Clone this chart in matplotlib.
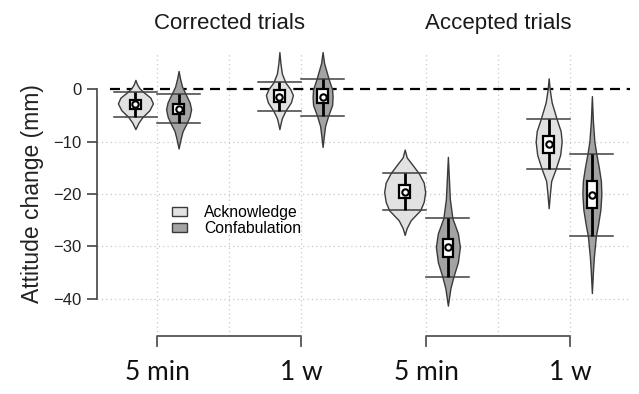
import numpy as np
import matplotlib
matplotlib.use("Agg")
import matplotlib.pyplot as plt
from matplotlib.patches import Patch, Rectangle

plt.rcParams['font.family'] = ['Liberation Sans', 'DejaVu Sans']

# ---- data ----
panel_titles = ['Corrected trials', 'Accepted trials']
time_labels = ['5 min', '1 w', '5 min', '1 w']
group_pos = [1.0, 3.0, 4.74, 6.74]
conditions = ['Acknowledge', 'Confabulation']

# order: (5 min, 1 w) corrected, then (5 min, 1 w) accepted; Ack / Confab within each
medians = [-2.9, -3.8, -1.4, -1.5, -19.6, -30.2, -10.4, -20.2]
box_hi = [-2.0, -2.9, -0.1, 0.0, -18.3, -28.5, -8.9, -17.6]
box_lo = [-3.8, -4.8, -2.4, -2.7, -20.8, -32.1, -12.1, -22.7]
bar_hi = [-0.6, -0.9, 1.3, 2.0, -16.0, -24.6, -5.7, -12.4]
bar_lo = [-5.3, -6.5, -4.1, -5.1, -23.1, -35.8, -15.2, -28.0]

# violin outlines: y values and density (half width)
prof_y = [
    [1.8, 1.0, 0.2, -0.6, -1.6, -2.7, -4.0, -5.3, -6.4, -7.6],
    [3.5, 2.0, 0.5, -0.9, -2.5, -3.8, -5.2, -6.5, -8.0, -9.5, -11.3],
    [7.1, 5.0, 3.0, 1.3, 0.0, -1.1, -2.5, -4.1, -5.5, -6.5, -7.6],
    [7.1, 5.0, 2.0, 0.0, -1.5, -3.0, -5.1, -7.0, -9.0, -11.0],
    [-11.5, -13.0, -14.1, -16.0, -17.8, -19.6, -21.5, -23.1, -25.0, -26.5, -27.8],
    [-12.9, -17.0, -21.0, -24.6, -27.5, -30.1, -33.0, -35.8, -38.0, -41.3],
    [2.1, 0.0, -2.5, -5.7, -8.0, -10.0, -12.5, -15.2, -17.5, -20.0, -22.7],
    [-1.3, -6.0, -10.0, -12.4, -15.0, -17.5, -20.0, -23.0, -26.0, -28.0, -32.0, -35.0, -38.9],
]
prof_d = [
    [0, 1.5, 4, 8.5, 15, 17.5, 14, 7, 3, 0],
    [0, 1.5, 3.5, 7, 11, 12.5, 11, 8, 4, 2, 0],
    [0, 1, 2.5, 6, 11, 13.5, 11.5, 6, 2.5, 1.2, 0],
    [0, 1.5, 6, 9.5, 10, 9.5, 5.5, 2.5, 1.2, 0],
    [0, 2, 6.5, 14, 19, 20.5, 19, 15.5, 6, 2, 0],
    [0, 1, 2, 4.5, 10, 12, 10, 5.5, 2.5, 0],
    [0, 1, 3, 8, 12, 13, 11.5, 7, 2.5, 1.2, 0],
    [0, 1, 2.5, 4.5, 7, 9, 9.5, 8.5, 6, 4, 2, 1, 0],
]

fills = ['#e2e2e2', '#a3a3a3']
edge = '#3a3a3a'
offset = 0.3
dscale = 1 / 72.0

fig = plt.figure(figsize=(6.39, 3.94), dpi=100)
ax = fig.add_axes([97 / 639, 1 - 336 / 394, 535 / 639, 284 / 394])
ax.set_xlim(1 + (97 - 157) / 72, 1 + (632 - 157) / 72)
ax.set_ylim(-47.1, 7.12)

# grid
vgrid = []
for g in group_pos:
    vgrid += [g, g + 1] if g in (1.0, 4.74) else [g]
for x in vgrid:
    ax.axvline(x, color='#c8c8c8', ls=(0, (1, 2.5)), lw=0.9, zorder=0)
for y in [-10, -20, -30, -40]:
    ax.axhline(y, xmax=0.996, color='#c8c8c8', ls=(0, (1, 2.5)), lw=0.9, zorder=0)
ax.axhline(0, xmin=0.024, xmax=0.996, color='black', ls=(0, (4.5, 3)), lw=1.6, zorder=1)

for i in range(8):
    gi, ci = divmod(i, 2)
    pos = group_pos[gi] + (offset if ci else -offset)
    y = np.array(prof_y[i])
    d = np.array(prof_d[i]) * dscale
    ax.fill_betweenx(y, pos - d, pos + d, facecolor=fills[ci], edgecolor=edge,
                     lw=1.0, zorder=2)
    for yy in (bar_hi[i], bar_lo[i]):
        ax.plot([pos - offset, pos + offset], [yy, yy], color='#404040', lw=1.1, zorder=3)
    ax.plot([pos, pos], [bar_lo[i], bar_hi[i]], color='black', lw=2.0, zorder=4,
            solid_capstyle='butt')
    bw = 0.145
    ax.add_patch(Rectangle((pos - bw / 2, box_lo[i]), bw, box_hi[i] - box_lo[i],
                           facecolor='white', edgecolor='black', lw=1.6, zorder=5))
    ax.plot(pos, medians[i], 'o', ms=4.6, mfc='white', mec='black', mew=1.5, zorder=6)

# axes styling
for s in ['top', 'right', 'bottom']:
    ax.spines[s].set_visible(False)
ax.spines['left'].set_bounds(-40, 0)
ax.spines['left'].set_color('#444444')
ax.spines['left'].set_linewidth(1.2)
ax.set_yticks([0, -10, -20, -30, -40])
ax.tick_params(axis='y', length=7, width=1.2, color='#444444', labelsize=12,
               labelcolor='#222222', pad=4)
ax.set_xticks([])
ax.set_ylabel('Attitude change (mm)', fontsize=16.5, color='#222222', labelpad=7)

# brackets under each panel with time labels
tr = ax.get_xaxis_transform()
for k in range(2):
    a, b = group_pos[2 * k], group_pos[2 * k + 1]
    ax.plot([a, a, b, b], [-0.035, 0, 0, -0.035], color='#555555', lw=1.3,
            transform=tr, clip_on=False)
    ax.text((a + b) / 2, 1.1, panel_titles[k], transform=tr, ha='center',
            va='center', fontsize=16, color='#1a1a1a')
for g, lab in zip(group_pos, time_labels):
    ax.text(g, -0.13, lab, transform=tr, ha='center', va='center',
            fontsize=19, family=['Lato', 'DejaVu Sans'], color='#111111')

handles = [Patch(facecolor=fills[j], edgecolor=edge, lw=1.0, label=conditions[j])
           for j in range(2)]
fig.legend(handles=handles, loc='center left', bbox_to_anchor=(172 / 639, 1 - 220.5 / 394),
           frameon=False, fontsize=11.3, handlelength=0.95, handleheight=0.55,
           handletextpad=1.1, labelspacing=0.05, borderpad=0, borderaxespad=0)

fig.savefig('out.png', dpi=100)
